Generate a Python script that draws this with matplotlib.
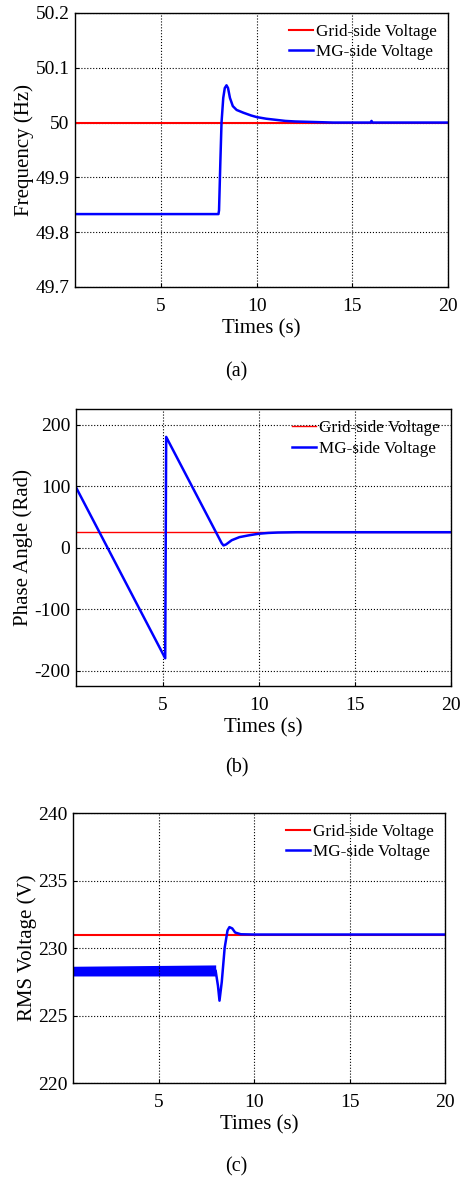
import matplotlib
matplotlib.use("Agg")
import matplotlib.pyplot as plt

plt.rcParams['font.family'] = ['Liberation Serif', 'DejaVu Serif']
plt.rcParams['axes.unicode_minus'] = False

# grid-side references
grid_freq = 50.0
grid_phase = 25.0
grid_rms = 231.0

# (a) MG-side frequency
freq_t = [0.5, 8.0, 8.03, 8.1, 8.16, 8.25, 8.33, 8.42, 8.5, 8.6, 8.75, 8.95, 9.3, 9.7,
          10.0, 10.5, 11.0, 11.5, 12.0, 13.0, 14.0, 15.95, 16.0, 16.05, 20.0]
freq_mg = [49.833, 49.833, 49.84, 49.93, 50.0, 50.045, 50.063, 50.068, 50.063, 50.045,
           50.03, 50.023, 50.018, 50.013, 50.010, 50.007, 50.005, 50.003, 50.002,
           50.001, 50.0, 50.0, 50.003, 50.0, 50.0]
freq_ticks = [49.7, 49.8, 49.9, 50.0, 50.1, 50.2]
freq_labels = ['49.7', '49.8', '49.9', '50', '50.1', '50.2']

# (b) MG-side phase angle
phase_t = [0.5, 5.14, 5.19, 8.08, 8.17, 8.3, 8.6, 9.0, 9.5, 10.0, 10.5, 11.0, 12.0, 20.0]
phase_mg = [98, -180, 180, 7, 3.5, 5, 12, 17, 20, 22.5, 23.8, 24.5, 25, 25]
phase_ticks = [-200, -100, 0, 100, 200]

# (c) MG-side RMS voltage: ripple band before sync, then transient
band_t = [0.5, 7.98]
band_lo = [227.93, 227.93]
band_hi = [228.65, 228.75]
rms_t = [7.98, 8.1, 8.18, 8.3, 8.45, 8.6, 8.7, 8.85, 9.0, 9.3, 10.0, 20.0]
rms_mg = [228.3, 227.2, 226.1, 227.5, 230.0, 231.3, 231.55, 231.45, 231.15, 231.02, 231.0, 231.0]
rms_ticks = [220, 225, 230, 235, 240]

x_ticks = [5, 10, 15, 20]


def style(ax, ylabel):
    ax.set_xlim(0.5, 20)
    ax.set_xticks(x_ticks)
    ax.grid(True, color='k', linestyle=':', linewidth=0.8)
    ax.tick_params(direction='in', length=3, labelsize=14)
    ax.tick_params(axis='x', pad=8)
    ax.tick_params(axis='y', pad=4)
    ax.set_xlabel('Times (s)', fontsize=15, labelpad=3)
    ax.set_ylabel(ylabel, fontsize=15, labelpad=1)
    for s in ax.spines.values():
        s.set_linewidth(1.0)
    ax.legend(loc='upper right', frameon=False, fontsize=12.3, handlelength=1.4,
              handletextpad=0.2, borderaxespad=0.25, labelspacing=0.25)


fig = plt.figure(figsize=(4.64, 11.79), dpi=100)

ax1 = fig.add_axes([0.1616, 0.7566, 0.804, 0.2324])
ax1.plot([0.5, 20], [grid_freq, grid_freq], color='#ff0000', lw=1.5, label='Grid-side Voltage')
ax1.plot(freq_t, freq_mg, color='#0000ff', lw=1.8, label='MG-side Voltage')
ax1.set_ylim(49.7, 50.2)
ax1.set_yticks(freq_ticks)
ax1.set_yticklabels(freq_labels)
style(ax1, 'Frequency (Hz)')

ax2 = fig.add_axes([0.1638, 0.4182, 0.808, 0.2347])
ax2.plot([0.5, 20], [grid_phase, grid_phase], color='#ff0000', lw=1.0, label='Grid-side Voltage')
ax2.plot(phase_t, phase_mg, color='#0000ff', lw=1.8, label='MG-side Voltage')
ax2.set_ylim(-225, 225)
ax2.set_yticks(phase_ticks)
style(ax2, 'Phase Angle (Rad)')

ax3 = fig.add_axes([0.1573, 0.0814, 0.8017, 0.229])
ax3.plot([0.5, 20], [grid_rms, grid_rms], color='#ff0000', lw=1.5, label='Grid-side Voltage')
ax3.fill_between(band_t, band_lo, band_hi, color='#0000ff', lw=0)
ax3.plot(rms_t, rms_mg, color='#0000ff', lw=1.8, label='MG-side Voltage')
ax3.set_ylim(220, 240)
ax3.set_yticks(rms_ticks)
style(ax3, 'RMS Voltage (V)')

fig.text(0.51, 0.6845, '(a)', ha='center', va='center', fontsize=14.5)
fig.text(0.51, 0.3486, '(b)', ha='center', va='center', fontsize=14.5)
fig.text(0.51, 0.0105, '(c)', ha='center', va='center', fontsize=14.5)

fig.savefig('out.png', dpi=100)
